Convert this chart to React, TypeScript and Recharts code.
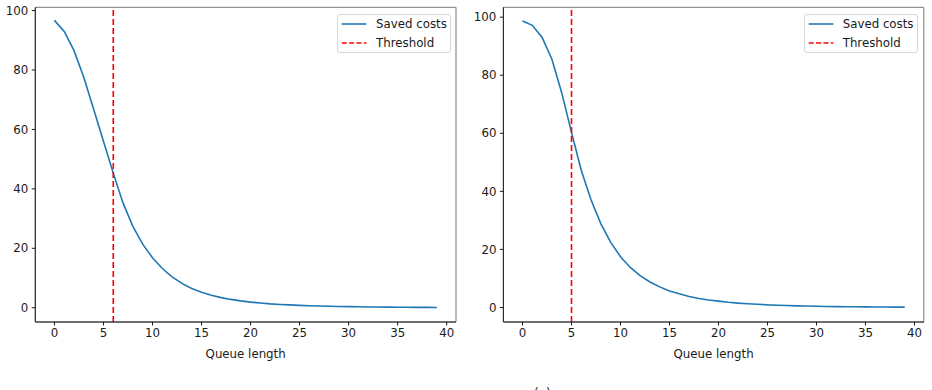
import React from "react";
import {
  Legend,
  Line,
  LineChart,
  ReferenceArea,
  ReferenceLine,
  XAxis,
  YAxis,
} from "recharts";

const queueLength = [
  0, 1, 2, 3, 4, 5, 6, 7, 8, 9, 10, 11, 12, 13, 14, 15, 16, 17, 18, 19, 20,
  21, 22, 23, 24, 25, 26, 27, 28, 29, 30, 31, 32, 33, 34, 35, 36, 37, 38, 39,
];

const savedCostsLeft = [
  96.7, 93.0, 86.5, 77.5, 66.8, 56.0, 45.3, 35.2, 27.4, 21.4, 16.8, 13.2, 10.4,
  8.2, 6.5, 5.2, 4.2, 3.4, 2.8, 2.3, 1.9, 1.6, 1.3, 1.1, 0.95, 0.8, 0.68, 0.58,
  0.49, 0.42, 0.36, 0.31, 0.27, 0.23, 0.2, 0.17, 0.15, 0.13, 0.11, 0.1,
];

const savedCostsRight = [
  98.7, 97.2, 93.0, 85.5, 74.0, 60.3, 47.2, 37.0, 28.8, 22.4, 17.5, 13.8, 11.0,
  8.8, 7.1, 5.7, 4.7, 3.8, 3.1, 2.6, 2.2, 1.8, 1.5, 1.3, 1.1, 0.9, 0.78, 0.66,
  0.57, 0.49, 0.42, 0.36, 0.31, 0.27, 0.23, 0.2, 0.17, 0.15, 0.13, 0.11,
];

const thresholdLeft = 6;
const thresholdRight = 5;

const xTicks = [0, 5, 10, 15, 20, 25, 30, 35, 40];
const yTicks = [0, 20, 40, 60, 80, 100];

const rows = queueLength.map((q, i) => ({
  q,
  left: savedCostsLeft[i],
  right: savedCostsRight[i],
}));

const BLUE = "#1f77b4";
const RED = "#ff0000";
const INK = "#1a1a1a";
const FONT = 11.8;
const X_DOMAIN: [number, number] = [-1.95, 40.95];

function LegendBox() {
  const entry = (top: number, label: string, dashed: boolean) => (
    <div style={{ position: "absolute", left: 0, top: top - 8, height: 16, width: "100%" }}>
      <svg width={34} height={16} style={{ position: "absolute", left: 0, top: 0 }}>
        <line
          x1={3.7}
          x2={28.4}
          y1={8}
          y2={8}
          stroke={dashed ? RED : BLUE}
          strokeWidth={1.6}
          strokeDasharray={dashed ? "5 2.4" : undefined}
        />
      </svg>
      <span
        style={{
          position: "absolute",
          left: 37.7,
          top: 0,
          lineHeight: "16px",
          fontSize: FONT,
          color: INK,
          whiteSpace: "nowrap",
        }}
      >
        {label}
      </span>
    </div>
  );
  return (
    <div
      style={{
        position: "relative",
        width: 114,
        height: 38.7,
        boxSizing: "border-box",
        border: "1px solid #d6d6d6",
        borderRadius: 3,
        background: "rgba(255,255,255,0.8)",
      }}
    >
      {entry(9.3, "Saved costs", false)}
      {entry(27.7, "Threshold", true)}
    </div>
  );
}

type PanelProps = {
  dataKey: "left" | "right";
  threshold: number;
  width: number;
  yAxisWidth: number;
  marginRight: number;
  yDomain: [number, number];
  legendLeft: number;
};

function Panel({ dataKey, threshold, width, yAxisWidth, marginRight, yDomain, legendLeft }: PanelProps) {
  const tick = { fontSize: FONT, fill: INK };
  return (
    <LineChart
      width={width}
      height={390}
      data={rows}
      margin={{ top: 7.3, right: marginRight, bottom: 28, left: 0 }}
    >
      {/* box around the plot area, left/bottom spines drawn by the axes */}
      <ReferenceArea
        x1={X_DOMAIN[0]}
        x2={X_DOMAIN[1]}
        y1={yDomain[0]}
        y2={yDomain[1]}
        fill="none"
        stroke="#777"
        strokeWidth={1}
        ifOverflow="visible"
      />
      <XAxis
        dataKey="q"
        type="number"
        domain={X_DOMAIN}
        ticks={xTicks}
        allowDataOverflow
        height={40}
        tick={tick}
        tickSize={3.5}
        tickMargin={3}
        tickLine={{ stroke: INK }}
        axisLine={{ stroke: "#222" }}
        label={{ value: "Queue length", position: "insideBottom", offset: 4.5, fontSize: FONT, fill: INK }}
      />
      <YAxis
        type="number"
        domain={yDomain}
        ticks={yTicks}
        allowDataOverflow
        width={yAxisWidth}
        tick={tick}
        tickSize={3.5}
        tickMargin={3.5}
        tickLine={{ stroke: INK }}
        axisLine={{ stroke: "#222" }}
      />
      <Line
        type="linear"
        dataKey={dataKey}
        stroke={BLUE}
        strokeWidth={1.6}
        dot={false}
        isAnimationActive={false}
      />
      <ReferenceLine x={threshold} stroke={RED} strokeWidth={1.6} strokeDasharray="6 3" />
      <Legend
        layout="vertical"
        align="center"
        verticalAlign="middle"
        wrapperStyle={{ top: 14, left: legendLeft, width: 114 }}
        content={() => <LegendBox />}
      />
    </LineChart>
  );
}

export default function App() {
  return (
    <div
      style={{
        position: "fixed",
        left: 0,
        top: 0,
        width: 932,
        height: 390,
        background: "#fff",
        fontFamily: "'DejaVu Sans', sans-serif",
        overflow: "hidden",
      }}
    >
      <div style={{ position: "absolute", left: 0, top: 0 }}>
        <Panel
          dataKey="left"
          threshold={thresholdLeft}
          width={470}
          yAxisWidth={35.3}
          marginRight={14}
          yDomain={[-4.8, 101.1]}
          legendLeft={337.3}
        />
      </div>
      <div style={{ position: "absolute", left: 470, top: 0 }}>
        <Panel
          dataKey="right"
          threshold={thresholdRight}
          width={462}
          yAxisWidth={33.4}
          marginRight={8.2}
          yDomain={[-5.0, 103.4]}
          legendLeft={804 - 470}
        />
      </div>
      <div
        style={{
          position: "absolute",
          left: 534,
          top: 386,
          fontSize: 12,
          lineHeight: "14px",
          color: INK,
        }}
      >
        (a)
      </div>
    </div>
  );
}
